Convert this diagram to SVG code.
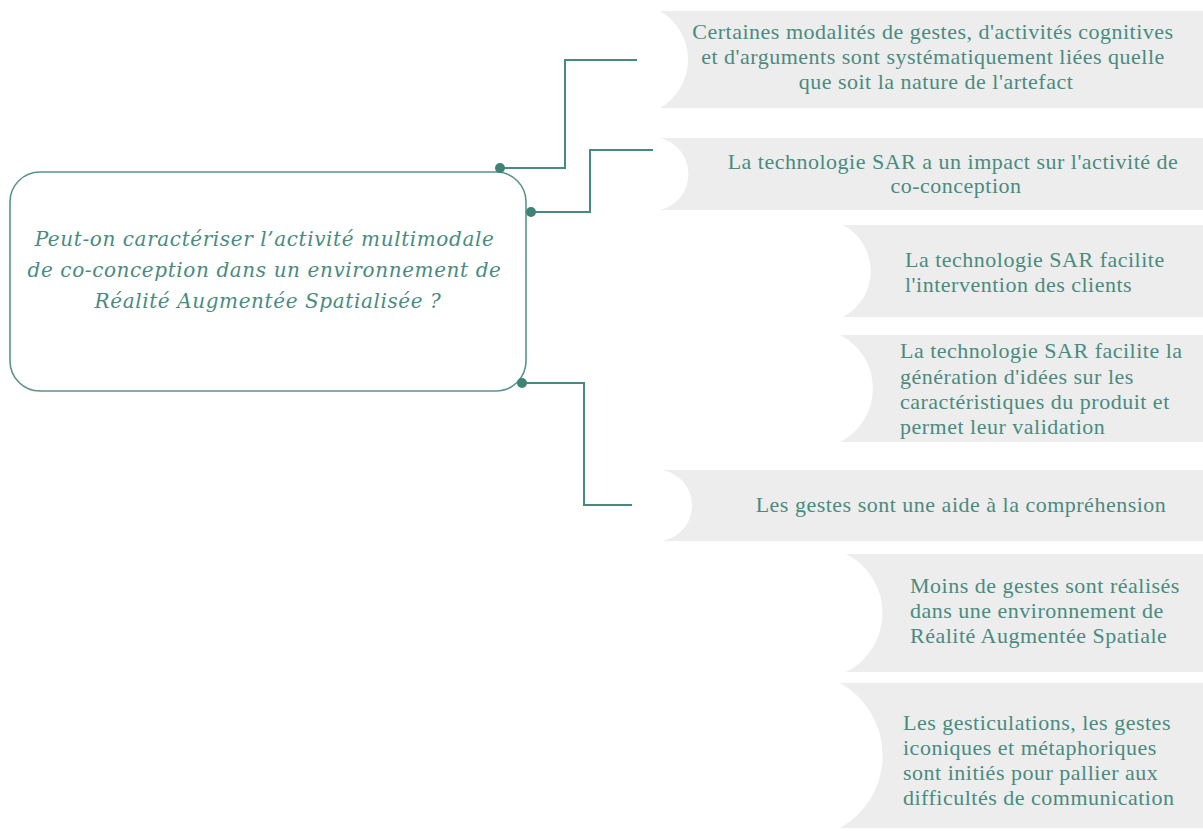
<svg xmlns="http://www.w3.org/2000/svg" width="1203" height="831" viewBox="0 0 1203 831">
<style>
.band{fill:#ededed;}
.conn{fill:none;stroke:#4a8a7e;stroke-width:2;}
.dot{fill:#3f8276;}
</style>
<rect width="1203" height="831" fill="#ffffff"/>
<g id="connectors">
<path class="conn" d="M500,168 H565 V60 H637"/>
<path class="conn" d="M531,212 H590 V150 H653"/>
<path class="conn" d="M522,383 H584 V505 H632"/>
</g>
<g id="main">
<rect x="10" y="172" width="516" height="219" rx="30" ry="30" fill="#ffffff" stroke="#5a9489" stroke-width="1.6"/>
<text font-family="DejaVu Serif, serif" font-style="italic" font-size="20" letter-spacing="0.6" fill="#4a8b7f" text-anchor="middle">
<tspan x="268" y="246">Peut-on caractériser l’activité multimodale</tspan>
<tspan x="268" y="277">de co-conception dans un environnement de</tspan>
<tspan x="268" y="308">Réalité Augmentée Spatialisée ?</tspan>
</text>
<circle class="dot" cx="500" cy="168" r="5"/>
<circle class="dot" cx="531" cy="212" r="5"/>
<circle class="dot" cx="522" cy="383" r="5"/>
</g>
<g id="n1">
<path class="band" d="M660,11 H1203 V108 H660 A56 56 0 0 0 660,11 Z"/>
<text font-family="Liberation Serif, serif" font-size="22" letter-spacing="0.5" fill="#4a8b7f" text-anchor="middle">
<tspan x="936" y="39">Certaines modalités de gestes, d'activités cognitives</tspan>
<tspan x="936" y="64">et d'arguments sont systématiquement liées quelle</tspan>
<tspan x="936" y="89">que soit la nature de l'artefact</tspan>
</text>
</g>
<g id="n2">
<path class="band" d="M660,138 H1203 V210 H660 A37 37 0 0 0 660,138 Z"/>
<text font-family="Liberation Serif, serif" font-size="22" letter-spacing="0.5" fill="#4a8b7f" text-anchor="middle">
<tspan x="956" y="169">La technologie SAR a un impact sur l'activité de</tspan>
<tspan x="956" y="193">co-conception</tspan>
</text>
</g>
<g id="n3">
<path class="band" d="M843,225 H1203 V317 H843 A52 52 0 0 0 843,225 Z"/>
<text font-family="Liberation Serif, serif" font-size="22" letter-spacing="0.5" fill="#4a8b7f">
<tspan x="905" y="267">La technologie SAR facilite</tspan>
<tspan x="905" y="292">l'intervention des clients</tspan>
</text>
</g>
<g id="n4">
<path class="band" d="M840,335 H1203 V442 H840 A60 60 0 0 0 840,335 Z"/>
<text font-family="Liberation Serif, serif" font-size="22" letter-spacing="0.5" fill="#4a8b7f">
<tspan x="900" y="358">La technologie SAR facilite la</tspan>
<tspan x="900" y="384">génération d'idées sur les</tspan>
<tspan x="900" y="409">caractéristiques du produit et</tspan>
<tspan x="900" y="434">permet leur validation</tspan>
</text>
</g>
<g id="n5">
<path class="band" d="M662,470 H1203 V541 H662 A36 36 0 0 0 662,470 Z"/>
<text font-family="Liberation Serif, serif" font-size="22" letter-spacing="0.5" fill="#4a8b7f" text-anchor="middle">
<tspan x="961" y="512">Les gestes sont une aide à la compréhension</tspan>
</text>
</g>
<g id="n6">
<path class="band" d="M846,554 H1203 V672 H846 A66 66 0 0 0 846,554 Z"/>
<text font-family="Liberation Serif, serif" font-size="22" letter-spacing="0.5" fill="#4a8b7f">
<tspan x="910" y="593">Moins de gestes sont réalisés</tspan>
<tspan x="910" y="618">dans une environnement de</tspan>
<tspan x="910" y="643">Réalité Augmentée Spatiale</tspan>
</text>
</g>
<g id="n7">
<path class="band" d="M840,683 H1203 V828 H840 A83 83 0 0 0 840,683 Z"/>
<text font-family="Liberation Serif, serif" font-size="22" letter-spacing="0.5" fill="#4a8b7f">
<tspan x="903" y="730">Les gesticulations, les gestes</tspan>
<tspan x="903" y="755">iconiques et métaphoriques</tspan>
<tspan x="903" y="780">sont initiés pour pallier aux</tspan>
<tspan x="903" y="805">difficultés de communication</tspan>
</text>
</g>
</svg>
